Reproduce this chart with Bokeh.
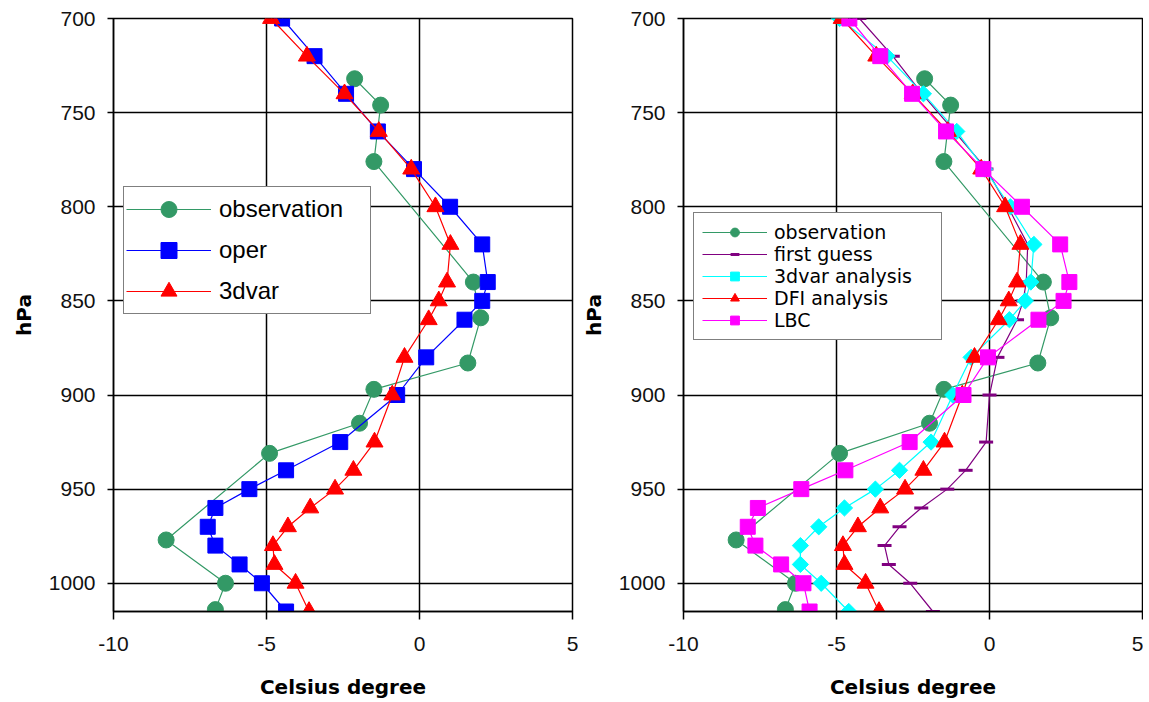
import numpy as np
from bokeh.plotting import figure
from bokeh.models import Range1d, FixedTicker
from bokeh.layouts import row
from bokeh.embed import file_html
from bokeh.resources import INLINE

# ---------------- data ----------------
levels = [700, 720, 740, 760, 780, 800, 820, 840, 850, 860, 880, 900,
          925, 940, 950, 960, 970, 980, 990, 1000, 1015]

obs_levels = [732, 746, 776, 840, 859, 883, 897, 915, 931, 977, 1000, 1014]
observation = [-2.12, -1.27, -1.49, 1.76, 2.00, 1.58, -1.49, -1.96, -4.90, -8.28, -6.34, -6.67]

oper = [-4.49, -3.43, -2.40, -1.36, -0.18, 1.00, 2.05, 2.23, 2.05, 1.47, 0.22, -0.73,
        -2.59, -4.36, -5.56, -6.67, -6.92, -6.67, -5.88, -5.15, -4.36]

var3d = [-4.85, -3.68, -2.45, -1.33, -0.27, 0.52, 1.01, 0.90, 0.63, 0.30, -0.49, -0.89,
         -1.47, -2.16, -2.76, -3.57, -4.30, -4.79, -4.74, -4.05, -3.61]

first_guess = [-4.25, -3.16, -2.20, -1.15, -0.10, 0.60, 1.25, 1.20, 1.10, 0.90, 0.26, 0.00,
               -0.11, -0.78, -1.38, -2.23, -2.94, -3.43, -3.29, -2.59, -1.85]

var3d_analysis = [-4.90, -3.35, -2.16, -1.07, -0.16, 0.68, 1.45, 1.35, 1.17, 0.65, -0.60, -1.20,
                  -1.91, -2.94, -3.73, -4.74, -5.58, -6.18, -6.18, -5.50, -4.60]

dfi_analysis = [-4.83, -3.70, -2.51, -1.36, -0.27, 0.51, 1.01, 0.90, 0.63, 0.30, -0.49, -0.89,
                -1.47, -2.16, -2.76, -3.57, -4.30, -4.79, -4.74, -4.05, -3.61]

lbc = [-4.58, -3.57, -2.53, -1.42, -0.20, 1.06, 2.31, 2.61, 2.42, 1.60, -0.05, -0.85,
       -2.61, -4.71, -6.15, -7.57, -7.90, -7.65, -6.81, -6.08, -5.88]

x_ticks = [-10, -5, 0, 5]
x_tick_labels = ["-10", "-5", "0", "5"]
y_ticks = [700, 750, 800, 850, 900, 950, 1000]

GREEN = "#339966"
BLUE = "#0000FF"
RED = "#FF0000"
MAGENTA = "#FF00FF"
CYAN = "#00FFFF"
PURPLE = "#800080"


def make_fig(width, left_border, right_border):
    p = figure(width=width, height=701, output_backend="svg", toolbar_location=None,
               title=None, x_range=Range1d(-10, 5), y_range=Range1d(1015, 700),
               min_border_left=left_border, min_border_right=right_border,
               min_border_top=18, min_border_bottom=88,
               background_fill_color="white", border_fill_color="white")
    p.outline_line_color = "black"
    p.outline_line_width = 1.5
    p.xaxis.ticker = FixedTicker(ticks=x_ticks)
    p.yaxis.ticker = FixedTicker(ticks=y_ticks)
    p.xgrid.ticker = FixedTicker(ticks=x_ticks)
    p.ygrid.ticker = FixedTicker(ticks=y_ticks)
    p.xaxis.major_label_overrides = dict(zip(x_ticks, x_tick_labels))
    for g in (p.xgrid[0], p.ygrid[0]):
        g.grid_line_color = "black"
        g.grid_line_width = 1.5
        g.grid_line_alpha = 1.0
    for ax in (p.xaxis[0], p.yaxis[0]):
        ax.axis_line_color = "black"
        ax.axis_line_width = 1.5
        ax.major_tick_line_color = "black"
        ax.major_tick_line_width = 1.5
        ax.minor_tick_line_color = None
        ax.major_tick_in = 0
        ax.major_label_text_font = "Liberation Sans"
        ax.major_label_text_font_size = "21px"
        ax.major_label_text_color = "#111111"
        ax.axis_label_text_font = "DejaVu Sans"
        ax.axis_label_text_font_style = "bold"
        ax.axis_label_text_font_size = "20px"
        ax.axis_label_text_color = "black"
    p.xaxis.axis_label = "Celsius degree"
    p.yaxis.axis_label = "hPa"
    p.xaxis.major_tick_out = 8
    p.yaxis.major_tick_out = 6
    p.xaxis.major_label_standoff = 17
    p.yaxis.major_label_standoff = 12
    p.xaxis.axis_label_standoff = 21
    p.yaxis.axis_label_standoff = 10
    return p


# ---------------- left panel ----------------
p1 = make_fig(578, 113, 6)
p1.line(observation, obs_levels, color=GREEN, line_width=1.2, legend_label="observation")
p1.scatter(observation, obs_levels, marker="circle", size=16, color=GREEN, legend_label="observation")
p1.line(oper, levels, color=BLUE, line_width=1.2, legend_label="oper")
p1.scatter(oper, levels, marker="square", size=15, color=BLUE, legend_label="oper")
p1.line(var3d, levels, color=RED, line_width=1.2, legend_label="3dvar")
p1.scatter(var3d, levels, marker="triangle", size=17, color=RED, legend_label="3dvar")

lg = p1.legend[0]
lg.location = (10, 297)
lg.border_line_color = "black"
lg.border_line_width = 1.5
lg.background_fill_color = "white"
lg.background_fill_alpha = 1.0
lg.label_text_font = "Liberation Sans"
lg.label_text_font_size = "24px"
lg.label_text_color = "black"
lg.padding = 2
lg.spacing = 1
lg.glyph_height = 40
lg.label_height = 40
lg.glyph_width = 85
lg.label_standoff = 8
lg.label_width = 149
lg.margin = 0

# ---------------- right panel ----------------
p2 = make_fig(565, 105, 1)
p2.line(observation, obs_levels, color=GREEN, line_width=1.2, legend_label="observation")
p2.scatter(observation, obs_levels, marker="circle", size=16, color=GREEN, legend_label="observation")
p2.line(first_guess, levels, color=PURPLE, line_width=1.2, legend_label="first guess")
p2.scatter(first_guess, levels, marker="dash", size=14, line_width=3, color=PURPLE, legend_label="first guess")
p2.line(var3d_analysis, levels, color=CYAN, line_width=1.2, legend_label="3dvar analysis")
p2.scatter(var3d_analysis, levels, marker="square", angle=np.pi / 4, size=11.5, color=CYAN,
           legend_label="3dvar analysis")
p2.line(dfi_analysis, levels, color=RED, line_width=1.2, legend_label="DFI analysis")
p2.scatter(dfi_analysis, levels, marker="triangle", size=17, color=RED, legend_label="DFI analysis")
p2.line(lbc, levels, color=MAGENTA, line_width=1.2, legend_label="LBC")
p2.scatter(lbc, levels, marker="square", size=15, color=MAGENTA, legend_label="LBC")

lg2 = p2.legend[0]
lg2.location = (10, 271)
lg2.border_line_color = "black"
lg2.border_line_width = 1.5
lg2.background_fill_color = "white"
lg2.background_fill_alpha = 1.0
lg2.label_text_font = "DejaVu Sans"
lg2.label_text_font_size = "19px"
lg2.label_text_color = "black"
lg2.padding = 8
lg2.spacing = 0
lg2.glyph_height = 22
lg2.label_height = 22
lg2.glyph_width = 65
lg2.label_standoff = 7
lg2.label_width = 159
lg2.margin = 0

layout = row(p1, p2)
open("out.html", "w").write(file_html(layout, INLINE))
